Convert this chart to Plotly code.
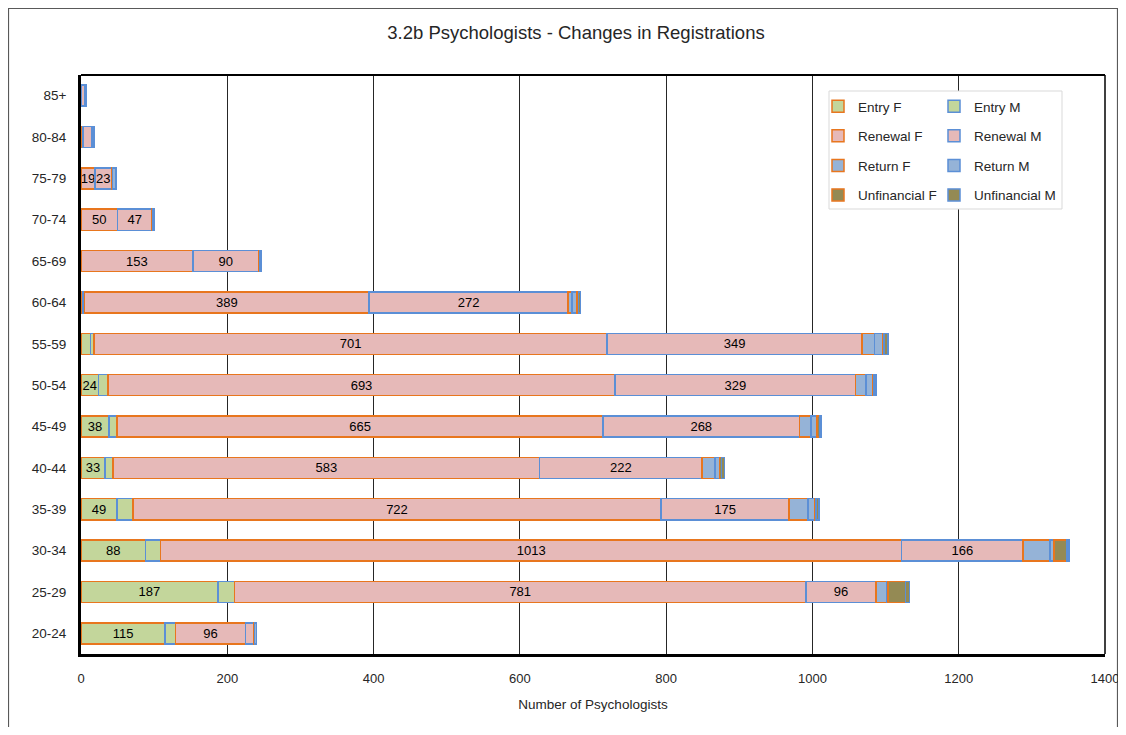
import plotly.graph_objects as go

ages = ['20-24', '25-29', '30-34', '35-39', '40-44', '45-49', '50-54',
        '55-59', '60-64', '65-69', '70-74', '75-79', '80-84', '85+']

entry_f = [115, 187, 88, 49, 33, 38, 24, 13, 3, 0, 0, 0, 0, 0]
entry_m = [14, 23, 21, 22, 11, 11, 13, 5, 2, 0, 0, 0, 0, 0]
renewal_f = [96, 781, 1013, 722, 583, 665, 693, 701, 389, 153, 50, 19, 3, 1]
renewal_m = [11, 96, 166, 175, 222, 268, 329, 349, 272, 90, 47, 23, 12, 4]
return_f = [1, 14, 37, 26, 18, 16, 14, 17, 5, 2, 1, 1, 0, 0]
return_m = [3, 2, 5, 9, 6, 8, 10, 11, 7, 0, 2, 5, 3, 2]
unfin_f = [0, 24, 18, 2, 3, 4, 1, 2, 2, 0, 0, 0, 0, 0]
unfin_m = [0, 6, 3, 4, 4, 2, 3, 5, 3, 1, 0, 0, 0, 0]

ORANGE = '#E8761E'
BLUE = '#5B8FD6'
series = [
    ('Entry F', entry_f, '#C3D69B', ORANGE, True, 'legend'),
    ('Entry M', entry_m, '#C3D69B', BLUE, False, 'legend2'),
    ('Renewal F', renewal_f, '#E6B9B8', ORANGE, True, 'legend'),
    ('Renewal M', renewal_m, '#E6B9B8', BLUE, True, 'legend2'),
    ('Return F', return_f, '#95B3D7', ORANGE, False, 'legend'),
    ('Return M', return_m, '#95B3D7', BLUE, False, 'legend2'),
    ('Unfinancial F', unfin_f, '#948A54', ORANGE, False, 'legend'),
    ('Unfinancial M', unfin_m, '#948A54', BLUE, False, 'legend2'),
]

# the page body adds an 8px margin all round; keep the figure inside the window
OFF = 8
W, H = 1126 - 2 * OFF, 735 - 2 * OFF
# plot area on screen: x 81..1105, y 75..654
L, R, T, B = 81 - OFF, W - (1105 - OFF), 75 - OFF, H - (654 - OFF)
pw, ph = W - L - R, H - T - B


def px(x):
    # screen x -> paper x
    return (x - OFF - L) / pw


def py(y):
    # screen y -> paper y
    return (H - B - (y - OFF)) / ph


fig = go.Figure()
for name, vals, fill, edge, labelled, leg in series:
    text = [str(v) if (labelled and v >= 19) else '' for v in vals]
    fig.add_trace(go.Bar(
        y=ages, x=vals, name=name, orientation='h',
        marker=dict(color=fill, line=dict(color=edge, width=1.5)),
        text=text, textposition='inside', insidetextanchor='middle',
        textfont=dict(color='black', size=13),
        legend=leg, legendgroup=name,
    ))

fig.update_layout(
    width=W, height=H,
    barmode='stack', bargap=0.49,
    plot_bgcolor='white', paper_bgcolor='white',
    margin=dict(l=L, r=R, t=T, b=B),
    font=dict(family='Liberation Sans, Arial, sans-serif', color='#262626', size=13),
    uniformtext=dict(minsize=13, mode='show'),
    title=dict(text='3.2b Psychologists - Changes in Registrations',
               x=(576 - OFF) / W, xanchor='center', y=1 - (33 - OFF) / H, yanchor='middle',
               font=dict(size=18.5, color='#262626')),
    legend=dict(x=px(818), y=py(91), xanchor='left', yanchor='top',
                bgcolor='rgba(0,0,0,0)', tracegroupgap=9,
                font=dict(size=13.5, color='#262626')),
    legend2=dict(x=px(934), y=py(91), xanchor='left', yanchor='top',
                 bgcolor='rgba(0,0,0,0)', tracegroupgap=9,
                 font=dict(size=13.5, color='#262626')),
    shapes=[
        # legend frame
        dict(type='rect', xref='paper', yref='paper', layer='above',
             x0=px(829), x1=px(1062), y0=py(209), y1=py(91),
             fillcolor='white', line=dict(color='#D9D9D9', width=1)),
        # top and right of plot frame
        dict(type='line', xref='paper', yref='paper', x0=0, x1=1, y0=1, y1=1,
             line=dict(color='black', width=2)),
        dict(type='line', xref='paper', yref='paper', x0=1, x1=1, y0=0, y1=1,
             line=dict(color='black', width=1.5)),
        # chart border
        dict(type='rect', xref='paper', yref='paper', layer='below',
             x0=px(OFF + 0.5), x1=px(1117.5), y0=py(760), y1=py(OFF + 0.5),
             line=dict(color='#595959', width=1.2)),
    ],
)

fig.update_xaxes(
    range=[0, 1400], dtick=200, showgrid=True, gridcolor='#262626', gridwidth=1,
    zeroline=False, showline=True, linecolor='black', linewidth=3,
    automargin=False, ticklabeloverflow='allow',
    ticks='', ticklabelstandoff=10, tickfont=dict(size=13, color='#262626'),
    title=dict(text='Number of Psychologists', font=dict(size=13.5), standoff=15),
)
fig.update_yaxes(
    showgrid=False, showline=True, linecolor='black', linewidth=3,
    automargin=False,
    ticks='', ticklabelstandoff=9, tickfont=dict(size=13.5, color='#262626'),
)

fig.write_html('out.html')
